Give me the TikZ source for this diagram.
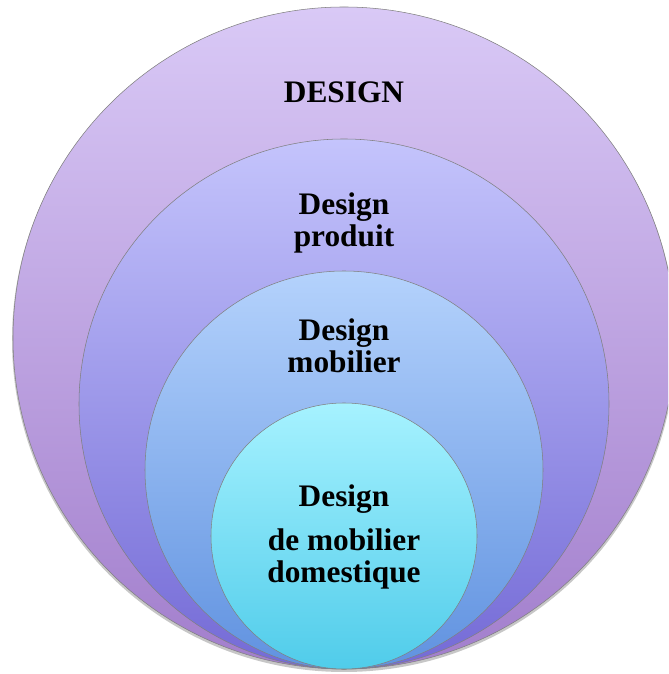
\documentclass[tikz,border=0pt]{standalone}
\usepackage{fontspec}
\setmainfont{Liberation Serif}
\usetikzlibrary{calc}
\definecolor{ringAtop}{RGB}{217,201,246}
\definecolor{ringAbot}{RGB}{162,126,204}
\definecolor{ringBtop}{RGB}{196,196,252}
\definecolor{ringBbot}{RGB}{116,106,214}
\definecolor{ringCtop}{RGB}{180,210,252}
\definecolor{ringCbot}{RGB}{96,146,224}
\definecolor{ringDtop}{RGB}{166,242,255}
\definecolor{ringDbot}{RGB}{80,204,234}
\newcommand{\px}{0.75pt}
\newcommand{\touchx}{344}
\newcommand{\touchy}{5}

\begin{document}
\begin{tikzpicture}[x=0.75pt,y=0.75pt]
\tikzset{ring/.style={circle,draw=black!50,line width=0.4pt,inner sep=0pt},
  ringlabel/.style={font=\bfseries\fontsize{23.5}{24}\selectfont,align=center}}
\useasboundingbox (0,0) rectangle (668,674);
\clip (0,0) rectangle (668,674);
% shadow under the rings
\fill[black,opacity=0.22] (\touchx,\touchy+329) circle (332);
% rings, all touching at the bottom
\node[ring,minimum size=2*331*\px,top color=ringAtop,bottom color=ringAbot] (design) at (\touchx,\touchy+331) {};
\node[ring,minimum size=2*265*\px,top color=ringBtop,bottom color=ringBbot] (produit) at (\touchx,\touchy+265) {};
\node[ring,minimum size=2*199*\px,top color=ringCtop,bottom color=ringCbot] (mobilier) at (\touchx,\touchy+199) {};
\node[ring,minimum size=2*133*\px,top color=ringDtop,bottom color=ringDbot] (domestique) at (\touchx,\touchy+133) {};
% labels
\node[ringlabel,anchor=base] (designlabel) at (\touchx,571) {DESIGN};
\node[ringlabel] (produitlabel) at (\touchx,451) {Design\\produit};
\node[ringlabel] (mobilierlabel) at (\touchx,328) {Design\\mobilier};
\node[ringlabel] (domestiquelabel) at (\touchx,137) {Design\\[9pt]de mobilier\\domestique};
\end{tikzpicture}
\end{document}
